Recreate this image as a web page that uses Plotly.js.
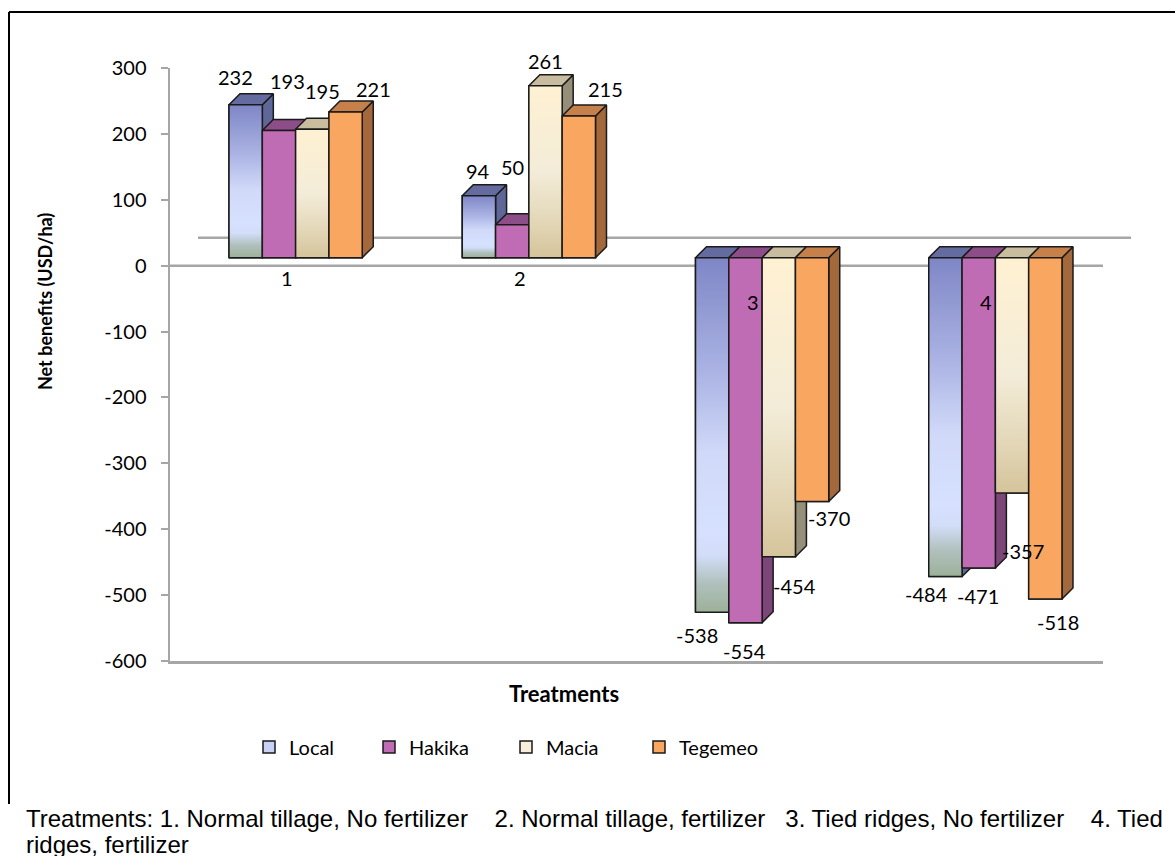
<!DOCTYPE html>
<html><head><meta charset="utf-8">
<script src="https://cdn.plot.ly/plotly-3.0.1.min.js"></script>
<style>html,body{margin:0;padding:0;background:#fff;} #chart{width:1175px;height:856px;}</style>
</head><body><div id="chart"></div>
<script>
// ---------- DATA ----------
const categories = ['1', '2', '3', '4'];
const seriesNames = ['Local', 'Hakika', 'Macia', 'Tegemeo'];
const localValues = [232, 94, -538, -484];
const hakikaValues = [193, 50, -554, -471];
const maciaValues = [195, 261, -454, -357];
const tegemeoValues = [221, 215, -370, -518];
const yTickValues = [300, 200, 100, 0, -100, -200, -300, -400, -500, -600];
const xTitleText = 'Treatments';
const yTitleText = 'Net benefits (USD/ha)';
const NB = '\u00A0';
const footnoteLine1 = 'Treatments: 1. Normal tillage, No fertilizer' + NB.repeat(4) + '2. Normal tillage, fertilizer' + NB.repeat(3) + '3. Tied ridges, No fertilizer' + NB.repeat(4) + '4. Tied';
const footnoteLine2 = 'ridges, fertilizer';

const seriesValues = [localValues, hakikaValues, maciaValues, tegemeoValues];

// ---------- LAYOUT / STYLE ----------
const W = 1175, H = 856;
const M = {l: 170, r: 72, t: 68, b: 195};
const plotW = W - M.l - M.r, plotH = H - M.t - M.b;
const yMin = -600, yMax = 300;
const pxPerX = plotW / categories.length;
const pxPerY = plotH / (yMax - yMin);
const frontShift = {x: 9, y: 8};
const depthPx = 11;
const backPx = 28;
const barW = 0.1428;
const dxU = depthPx / pxPerX, dyU = depthPx / pxPerY;
const edge = '#1a1a1a';
const calibri = 'Lato, Carlito, Calibri, sans-serif';
const axisGray = '#a6a6a6';

const styles = [
  {legend: '#c9d2f5', side: '#5f6799', top: '#646c9f',
   grad: [[0, '#9cb199'], [0.08, '#afc0bc'], [0.16, '#d2ddf8'], [0.22, '#d6e0ff'], [0.45, '#d0d9f8'], [0.68, '#aab3e3'], [1, '#7f86c6']]},
  {legend: '#c06cb4', side: '#7c4679', top: '#8d4d89', front: '#c06cb4'},
  {legend: '#f7efdc', side: '#958e78', top: '#c9bda0',
   grad: [[0, '#d5c49b'], [0.2, '#e2d6b6'], [0.5, '#f3ecd8'], [1, '#fff1d2']]},
  {legend: '#f8a660', side: '#a3693c', top: '#c6814a', front: '#f8a660'}
];

// pixel shifts of value labels, [dx, dy] per series per category
const labelShift = [
  [[-10, -28], [-1, -25], [-15, 23], [-19, 17]],
  [[9, -50], [0, -58], [-1, 28], [-1, 28]],
  [[10, -38], [0, -25], [16, 29], [11, 58]],
  [[28, -23], [27, -27], [17, 17], [13, 23]]
];
const catLabelShift = [-12, -12, -36, -36];
const legendSymbolX = [249, 369, 506, 639];

const traces = [];
// legend / base bars
seriesNames.forEach((name, s) => {
  traces.push({
    type: 'bar', name: name, x: categories.map((c, i) => i + 1), y: seriesValues[s],
    xaxis: 'x2', yaxis: 'y2', legend: s === 0 ? 'legend' : 'legend' + (s + 1),
    marker: {color: styles[s].legend, line: {color: edge, width: 1.5}},
    hoverinfo: 'skip'
  });
});

function poly(xs, ys, fill, grad) {
  const t = {
    type: 'scatter', mode: 'lines', x: xs.concat([xs[0]]), y: ys.concat([ys[0]]),
    xaxis: 'x2', yaxis: 'y2', fill: 'toself', showlegend: false, hoverinfo: 'skip',
    line: {color: edge, width: 1.5}, fillcolor: fill || 'rgba(0,0,0,0)'
  };
  if (grad) t.fillgradient = {type: 'vertical', colorscale: grad};
  return t;
}

categories.forEach((c, i) => {
  seriesNames.forEach((name, s) => {
    const v = seriesValues[s][i];
    const cx = i + 1 + (s - 1.5) * barW;
    const x0 = cx - barW / 2, x1 = cx + barW / 2;
    const yt = Math.max(v, 0), yb = Math.min(v, 0);
    const st = styles[s];
    traces.push(poly([x1, x1, x1 + dxU, x1 + dxU], [yb, yt, yt + dyU, yb + dyU], st.side));
    traces.push(poly([x0, x1, x1 + dxU, x0 + dxU], [yt, yt, yt + dyU, yt + dyU], st.top));
    traces.push(poly([x0, x1, x1, x0], [yb, yb, yt, yt], st.front, st.grad));
  });
});

const annotations = [];
seriesNames.forEach((name, s) => {
  categories.forEach((c, i) => {
    const v = seriesValues[s][i];
    annotations.push({
      xref: 'x2', yref: 'y2', x: i + 1 + (s - 1.5) * barW, y: v, text: String(v),
      showarrow: false, xanchor: 'center', yanchor: 'middle',
      xshift: labelShift[s][i][0], yshift: -labelShift[s][i][1],
      font: {family: calibri, size: 20, color: '#000'}
    });
  });
});
categories.forEach((c, i) => {
  annotations.push({
    xref: 'x', yref: 'y', x: i + 1, y: 0, text: c, showarrow: false,
    yshift: catLabelShift[i], font: {family: calibri, size: 20, color: '#000'}
  });
});
annotations.push({
  xref: 'paper', yref: 'paper', x: (564 - M.l) / plotW, y: (H - M.b - 693) / plotH,
  text: '<b>' + xTitleText + '</b>', showarrow: false, xanchor: 'center', yanchor: 'middle',
  font: {family: calibri, size: 22, color: '#000'}
});
annotations.push({
  xref: 'paper', yref: 'paper', x: (45 - M.l) / plotW, y: (H - M.b - 302) / plotH,
  text: '<b>' + yTitleText + '</b>', showarrow: false, textangle: -90, xanchor: 'center', yanchor: 'middle',
  font: {family: calibri, size: 18, color: '#000'}
});
[footnoteLine1, footnoteLine2].forEach((t, k) => {
  annotations.push({
    xref: 'paper', yref: 'paper', x: (24 - M.l) / plotW, y: (H - M.b - (818 + 26 * k)) / plotH,
    text: t, showarrow: false, xanchor: 'left', yanchor: 'middle', align: 'left',
    font: {family: 'Liberation Sans, Arial, sans-serif', size: 24, color: '#000'}
  });
});

const px2xp = px => (px - M.l) / plotW;
const py2yp = py => (H - M.b - py) / plotH;

const shapes = [
  {type: 'line', xref: 'paper', yref: 'y', x0: 0, x1: 1, y0: 0, y1: 0, layer: 'below', line: {color: axisGray, width: 2.5}},
  {type: 'line', xref: 'paper', yref: 'y', x0: backPx / plotW, x1: 1 + backPx / plotW, y0: backPx / pxPerY, y1: backPx / pxPerY, layer: 'below', line: {color: axisGray, width: 2.5}},
  {type: 'line', xref: 'paper', yref: 'paper', x0: px2xp(9), x1: px2xp(1176), y0: py2yp(12), y1: py2yp(12), line: {color: '#000', width: 2}},
  {type: 'line', xref: 'paper', yref: 'paper', x0: px2xp(9), x1: px2xp(9), y0: py2yp(12), y1: py2yp(804), line: {color: '#000', width: 2}}
];

const layout = {
  width: W, height: H, margin: M,
  paper_bgcolor: '#fff', plot_bgcolor: 'rgba(0,0,0,0)',
  showlegend: true,
  barmode: 'group', bargap: 1 - barW * 4, bargroupgap: 0,
  xaxis: {range: [0.5, 4.5], showline: true, linecolor: axisGray, linewidth: 2.5, showticklabels: false,
          ticks: '', showgrid: false, zeroline: false, fixedrange: true},
  yaxis: {range: [yMin, yMax], tickvals: yTickValues, ticktext: yTickValues.map(String),
          ticks: 'outside', ticklen: 7, tickwidth: 2, tickcolor: axisGray, showline: true, linecolor: axisGray,
          linewidth: 2.5, showgrid: false, zeroline: false, ticklabelstandoff: 10,
          tickfont: {family: calibri, size: 20, color: '#000'}, fixedrange: true},
  xaxis2: {overlaying: 'x', range: [0.5 - frontShift.x / pxPerX, 4.5 - frontShift.x / pxPerX], visible: false, fixedrange: true},
  yaxis2: {overlaying: 'y', range: [yMin - frontShift.y / pxPerY, yMax - frontShift.y / pxPerY], visible: false, fixedrange: true},
  annotations: annotations,
  shapes: shapes
};
const legendBase = {xref: 'container', yref: 'container', xanchor: 'left', yanchor: 'middle', orientation: 'h',
  bgcolor: 'rgba(0,0,0,0)', borderwidth: 0, font: {family: calibri, size: 20, color: '#000'}, itemclick: false, itemdoubleclick: false};
legendSymbolX.forEach((px, s) => {
  const key = s === 0 ? 'legend' : 'legend' + (s + 1);
  layout[key] = Object.assign({}, legendBase, {x: px / W, y: 1 - 747 / H});
});

Plotly.newPlot('chart', traces, layout, {displayModeBar: false, staticPlot: true});
</script>
</body></html>
